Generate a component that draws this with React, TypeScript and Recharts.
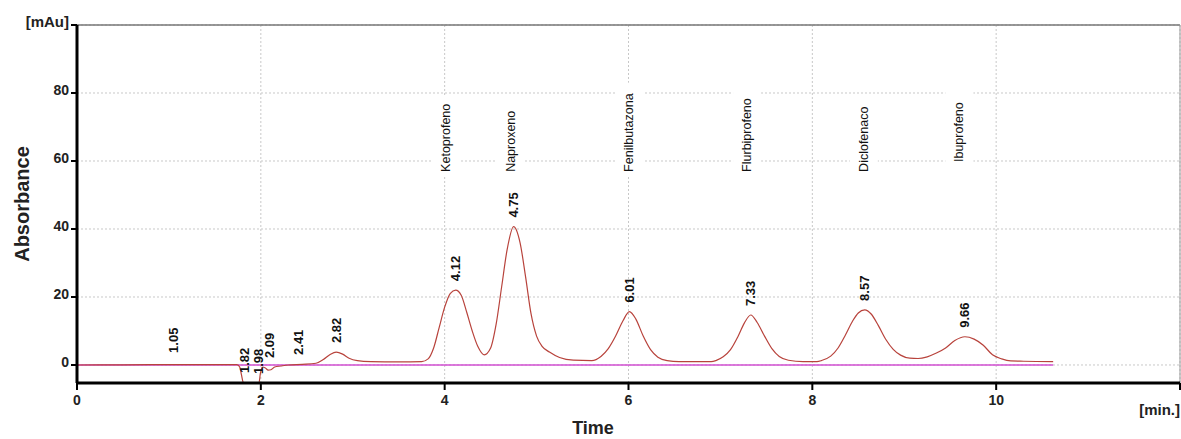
import React from "react";
import {
  ComposedChart,
  Line,
  Scatter,
  XAxis,
  YAxis,
  CartesianGrid,
  ReferenceLine,
} from "recharts";

const FONT = '"Liberation Sans", Arial, sans-serif';

// detector trace, time in minutes
const traceTime = [
  0, 0.5, 1.0, 1.5, 1.74, 1.77, 1.79, 1.81, 1.9, 1.98, 1.995, 2.02, 2.05, 2.08,
  2.11, 2.15, 2.22, 2.3, 2.45, 2.6, 2.68, 2.75, 2.82, 2.89, 2.96, 3.05, 3.2,
  3.5, 3.75, 3.82, 3.88, 3.94, 4.0, 4.06, 4.12, 4.18, 4.24, 4.3, 4.36, 4.43,
  4.5, 4.56, 4.62, 4.68, 4.75, 4.82, 4.88, 4.94, 5.0, 5.06, 5.14, 5.25, 5.4,
  5.6, 5.7, 5.78, 5.86, 5.94, 6.01, 6.08, 6.16, 6.24, 6.32, 6.42, 6.55, 6.9,
  6.95, 7.03, 7.11, 7.19, 7.26, 7.33, 7.4, 7.48, 7.56, 7.64, 7.74, 7.9, 8.05,
  8.1, 8.2, 8.28, 8.36, 8.44, 8.5, 8.57, 8.64, 8.72, 8.8, 8.88, 8.96, 9.06,
  9.15, 9.25, 9.35, 9.45, 9.55, 9.66, 9.76, 9.86, 9.96, 10.06, 10.16, 10.3,
  10.62,
];

// absorbance in mAu
const traceAbs = [
  0, 0.05, 0.1, 0.1, 0.1, -0.6, -3.0, -5.2, -5.2, -5.2, -2.5, -0.6, -0.9, -1.5,
  -1.4, -0.6, -0.3, 0.0, 0.2, 0.5, 1.6, 3.0, 3.8, 3.2, 2.0, 1.3, 1.0,
  0.9, 1.0, 1.8, 5, 11, 17, 21, 22, 20.5, 15.5, 10, 5.5, 3,
  5, 12, 23, 34, 40.7, 36, 26, 15, 8.5, 5.5, 3.8, 2.2, 1.4,
  1.3, 2.5, 4.8, 8.5, 13, 15.7, 13.5, 8.5, 4.5, 2.3, 1.3, 1.0, 1.0,
  1.3, 2.4, 4.5, 8.3, 12.3, 14.7, 12.5, 8.5, 4.8, 2.5, 1.4, 1.0, 1.0,
  1.3, 2.6, 5, 8.8, 13, 15.3, 16.2, 15, 11.5, 7.5, 4.6, 2.9, 2.0,
  1.9, 2.4, 3.5, 5, 7.2, 8.3, 7.6, 5.8, 3.0, 1.8, 1.2, 1.1,
  1.0,
];

// retention times printed over the peaks, and the signal level under each label
const peakTimes = [1.05, 1.82, 1.98, 2.09, 2.41, 2.82, 4.12, 4.75, 6.01, 7.33, 8.57, 9.66];
const peakLevels = [0.9, -5.0, -5.3, -0.6, 0.3, 3.8, 22, 40.7, 15.7, 14.7, 16.2, 8.3];

const compounds = ["Ketoprofeno", "Naproxeno", "Fenilbutazona", "Flurbiprofeno", "Diclofenaco", "Ibuprofeno"];
const compoundTimes = [4.02, 4.72, 6.01, 7.29, 8.56, 9.6];
const compoundLevels = [56.8, 56.8, 56.8, 56.8, 56.8, 59.7];

const xTicks = [0, 2, 4, 6, 8, 10, 12];
const yTicks = [0, 20, 40, 60, 80, 100];

const traceRows = traceTime.map((t, i) => ({ t, v: traceAbs[i] }));
const baselineRows = [
  { t: traceTime[0], v: 0 },
  { t: traceTime[traceTime.length - 1], v: 0 },
];
const peakRows = peakTimes.map((t, i) => ({ t, level: peakLevels[i], text: t.toFixed(2) }));
const compoundRows = compounds.map((name, i) => ({
  t: compoundTimes[i],
  level: compoundLevels[i],
  text: name,
}));

const PeakLabel = (props: any) => {
  const { cx, cy, payload } = props;
  const y = cy - 9;
  return (
    <text
      x={cx}
      y={y}
      transform={`rotate(-90 ${cx} ${y})`}
      textAnchor="start"
      dominantBaseline="central"
      fontFamily={FONT}
      fontSize={13}
      fontWeight="bold"
      fill="#111"
    >
      {payload.text}
    </text>
  );
};

const CompoundLabel = (props: any) => {
  const { cx, cy, payload } = props;
  const len = payload.text.length * 6.4;
  return (
    <g>
      <rect x={cx - 14} y={cy - len - 6} width={28} height={len + 10} fill="#fff" />
      <text
        x={cx}
        y={cy}
        transform={`rotate(-90 ${cx} ${cy})`}
        textAnchor="start"
        dominantBaseline="central"
        fontFamily={FONT}
        fontSize={12.5}
        fill="#111"
      >
        {payload.text}
      </text>
    </g>
  );
};

const XTick = (props: any) => {
  const { x, y, payload } = props;
  if (payload.value === 12) {
    return (
      <text x={x} y={y + 23} textAnchor="end" fontFamily={FONT} fontSize={15} fontWeight="bold" fill="#222">
        [min.]
      </text>
    );
  }
  return (
    <text x={x} y={y + 13} textAnchor="middle" fontFamily={FONT} fontSize={14} fontWeight="bold" fill="#222">
      {payload.value}
    </text>
  );
};

const YTick = (props: any) => {
  const { x, y, payload } = props;
  const isTop = payload.value === 100;
  return (
    <text
      x={x}
      y={y + 2}
      textAnchor="end"
      fontFamily={FONT}
      fontSize={isTop ? 15 : 14}
      fontWeight="bold"
      fill="#222"
    >
      {isTop ? "[mAu]" : payload.value}
    </text>
  );
};

export default function App() {
  return (
    <div style={{ position: "absolute", left: 0, top: 0, width: 1181, height: 439, background: "#fff" }}>
      <ComposedChart
        width={1181}
        height={439}
        data={traceRows}
        margin={{ top: 25, right: 1, bottom: 26, left: 17 }}
      >
        <CartesianGrid stroke="#c8c8c8" strokeDasharray="2 2" />
        <XAxis
          type="number"
          dataKey="t"
          domain={[0, 12]}
          ticks={xTicks}
          height={30}
          interval={0}
          tickSize={7}
          tickMargin={2}
          axisLine={{ stroke: "#000", strokeWidth: 3 }}
          tickLine={{ stroke: "#000", strokeWidth: 2 }}
          tick={<XTick />}
          label={{
            content: ({ viewBox }: any) => (
              <text
                x={viewBox.x + 516}
                y={viewBox.y + 51}
                textAnchor="middle"
                fontFamily={FONT}
                fontSize={18}
                fontWeight="bold"
                fill="#222"
              >
                Time
              </text>
            ),
          }}
        />
        <YAxis
          type="number"
          domain={[-5.3, 100]}
          ticks={yTicks}
          width={60}
          interval={0}
          tickSize={6}
          tickMargin={2}
          axisLine={{ stroke: "#000", strokeWidth: 3 }}
          tickLine={{ stroke: "#000", strokeWidth: 2 }}
          tick={<YTick />}
          label={{
            content: ({ viewBox }: any) => {
              const x = viewBox.x + 5;
              const y = viewBox.y + viewBox.height / 2;
              return (
                <text
                  x={x}
                  y={y}
                  transform={`rotate(-90 ${x} ${y})`}
                  textAnchor="middle"
                  dominantBaseline="central"
                  fontFamily={FONT}
                  fontSize={20}
                  fontWeight="bold"
                  fill="#222"
                >
                  Absorbance
                </text>
              );
            },
          }}
        />
        <ReferenceLine y={100} stroke="#777" strokeWidth={1.5} />
        <ReferenceLine x={12} stroke="#999" strokeWidth={1} />
        <Line
          data={baselineRows}
          dataKey="v"
          type="linear"
          stroke="#d24fd2"
          strokeWidth={1.3}
          dot={false}
          activeDot={false}
          isAnimationActive={false}
        />
        <Line
          dataKey="v"
          type="monotone"
          stroke="#b8433c"
          strokeWidth={1.2}
          dot={false}
          activeDot={false}
          isAnimationActive={false}
        />
        <Scatter data={compoundRows} dataKey="level" shape={<CompoundLabel />} isAnimationActive={false} />
        <Scatter data={peakRows} dataKey="level" shape={<PeakLabel />} isAnimationActive={false} />
      </ComposedChart>
    </div>
  );
}
